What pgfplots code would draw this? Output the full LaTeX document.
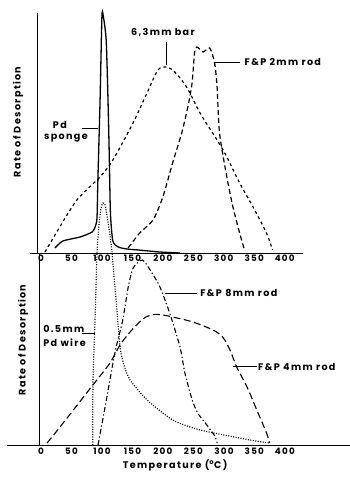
\documentclass[border=0pt]{standalone}
\usepackage{fontspec}
\setmainfont{Poppins}
\newfontfamily\lbl[LetterSpace=14]{Poppins}
\usepackage{pgfplots}
\pgfplotsset{compat=1.18}
\begin{document}
\begin{tikzpicture}[x=1pt,y=1pt]
\useasboundingbox (0,0) rectangle (350,479);
\tikzset{lab/.style={font=\lbl\bfseries\fontsize{9.6}{10}\selectfont, inner sep=0pt}}
% ---------------- top panel ----------------
\begin{axis}[at={(30pt,226pt)}, anchor=south west, scale only axis,
  width=273pt, height=240pt, xmin=-18, xmax=430, ymin=0, ymax=240,
  axis line style={draw=none}, ytick=\empty, xtick={0,50,...,400},
  xtick style={draw=none}, clip=false,
  /pgf/number format/assume math mode=true,
  xticklabel style={font=\lbl\bfseries\fontsize{8.8}{9}\selectfont, inner sep=1.5pt}]
\draw[line width=0.9pt] (axis cs:-18,0) -- (axis cs:430,0);
\draw[line width=0.9pt] (axis cs:-6.5,0) -- (axis cs:-6.5,240);
% Pd sponge
\addplot[black, line width=1.3pt, smooth, tension=0.4] coordinates {
(23,5) (36,12) (64,16) (84,21) (90,28) (92,36) (93.4,73) (97,153) (100,236) (102,238)
(107,213) (110,153) (112,100) (114,40) (118,12) (127,6) (141,4) (160,3) (195,1) (228,0)};
% 6.3mm bar
\addplot[black, line width=1.2pt, dash pattern=on 3pt off 3pt, smooth] coordinates {
(6.6,1) (27.9,23) (59,53) (96.7,76) (118,93) (151,130) (174,160) (190,181) (200,186)
(216,183) (239,166) (261,140) (289,113) (305,96) (326,70) (348,46) (370,20) (380,3)};
% F&P 2mm rod
\addplot[black, line width=1.2pt, dash pattern=on 5pt off 3pt, smooth, tension=0.4] coordinates {
(143,5) (162,20) (184,33) (200,56) (216,90) (231,120) (241,146) (248,170) (252,200)
(256,206) (266,201) (277,205) (285,190) (289,166) (293,120) (305,76) (315,46) (326,20) (334,3)};
% annotations
\node[lab] at (axis cs:200,220) {6,3mm bar};
\draw[line width=0.8pt] (axis cs:206.6,211) -- (axis cs:206.6,188);
\node[lab, anchor=west] at (axis cs:334,191) {F\&P 2mm rod};
\draw[line width=0.8pt] (axis cs:285,187) -- (axis cs:285,191) -- (axis cs:326,191);
\node[lab] at (axis cs:31,128) {Pd};
\node[lab] at (axis cs:41,115) {sponge};
\draw[line width=0.8pt] (axis cs:67,125) -- (axis cs:93.4,125);
\node[lab, rotate=90] at (axis cs:-37.7,131) {Rate of Desorption};
\end{axis}
% ---------------- bottom panel ----------------
\begin{axis}[at={(7pt,34pt)}, anchor=south west, scale only axis,
  width=343pt, height=192pt, xmin=-56, xmax=507, ymin=0, ymax=192,
  axis line style={draw=none}, ytick=\empty, xtick={0,50,...,400},
  xtick style={draw=none}, clip=false,
  /pgf/number format/assume math mode=true,
  xticklabel style={font=\lbl\bfseries\fontsize{8.8}{9}\selectfont, inner sep=3pt}]
\draw[line width=0.9pt] (axis cs:-56,0) -- (axis cs:507,0);
\draw[line width=0.9pt] (axis cs:-3,0) -- (axis cs:-3,192);
% 0.5mm Pd wire
\addplot[black, line width=1.2pt, dash pattern=on 1pt off 1.5pt, smooth, tension=0.4] coordinates {
(84.6,0) (85.2,65) (88.5,125) (91.8,192) (95,220) (98.4,237) (101.6,242) (105,240)
(108,230) (113,210) (116.4,192) (123,145) (129.5,98) (136,80) (146,65) (174,45)
(216,25) (261,15) (343,5) (375,2)};
% F&P 8mm rod
\addplot[black, line width=1.1pt, dash pattern=on 5pt off 2.5pt on 1.2pt off 2.5pt, smooth, tension=0.4] coordinates {
(93.4,0) (108,48) (121,92) (134,125) (143,158) (151,177) (166,185) (179,175)
(195,158) (211,132) (228,98) (236,72) (248,45) (257,32) (272,20) (285,9) (289,2)};
% F&P 4mm rod
\addplot[black, line width=1.1pt, dash pattern=on 7pt off 3.5pt, smooth, tension=0.5] coordinates {
(9.8,2) (31,18) (85,60) (113,82) (129.5,100) (146,113) (160,122) (172,128) (185,130.5)
(200,130) (216,128) (249,123) (282,115) (298,108) (310,95) (321,78) (338,58) (354,35) (370,12) (375,2)};
% annotations
\node[lab, anchor=west] at (axis cs:261,152) {F\&P 8mm rod};
\draw[line width=0.8pt] (axis cs:203,152) -- (axis cs:256,152);
\node[lab, anchor=west] at (axis cs:3.3,116) {0.5mm};
\node[lab, anchor=west] at (axis cs:3.3,102) {Pd wire};
\draw[line width=0.8pt] (axis cs:67,112) -- (axis cs:88.5,112);
\node[lab, anchor=west] at (axis cs:356,78) {F\&P 4mm rod};
\draw[line width=0.8pt] (axis cs:315,79) -- (axis cs:354,79);
\node[lab, rotate=90] at (axis cs:-29.5,105) {Rate of Desorption};
\node[lab] at (axis cs:220,-20) {Temperature (\textsuperscript{o}C)};
\end{axis}
\end{tikzpicture}
\end{document}
